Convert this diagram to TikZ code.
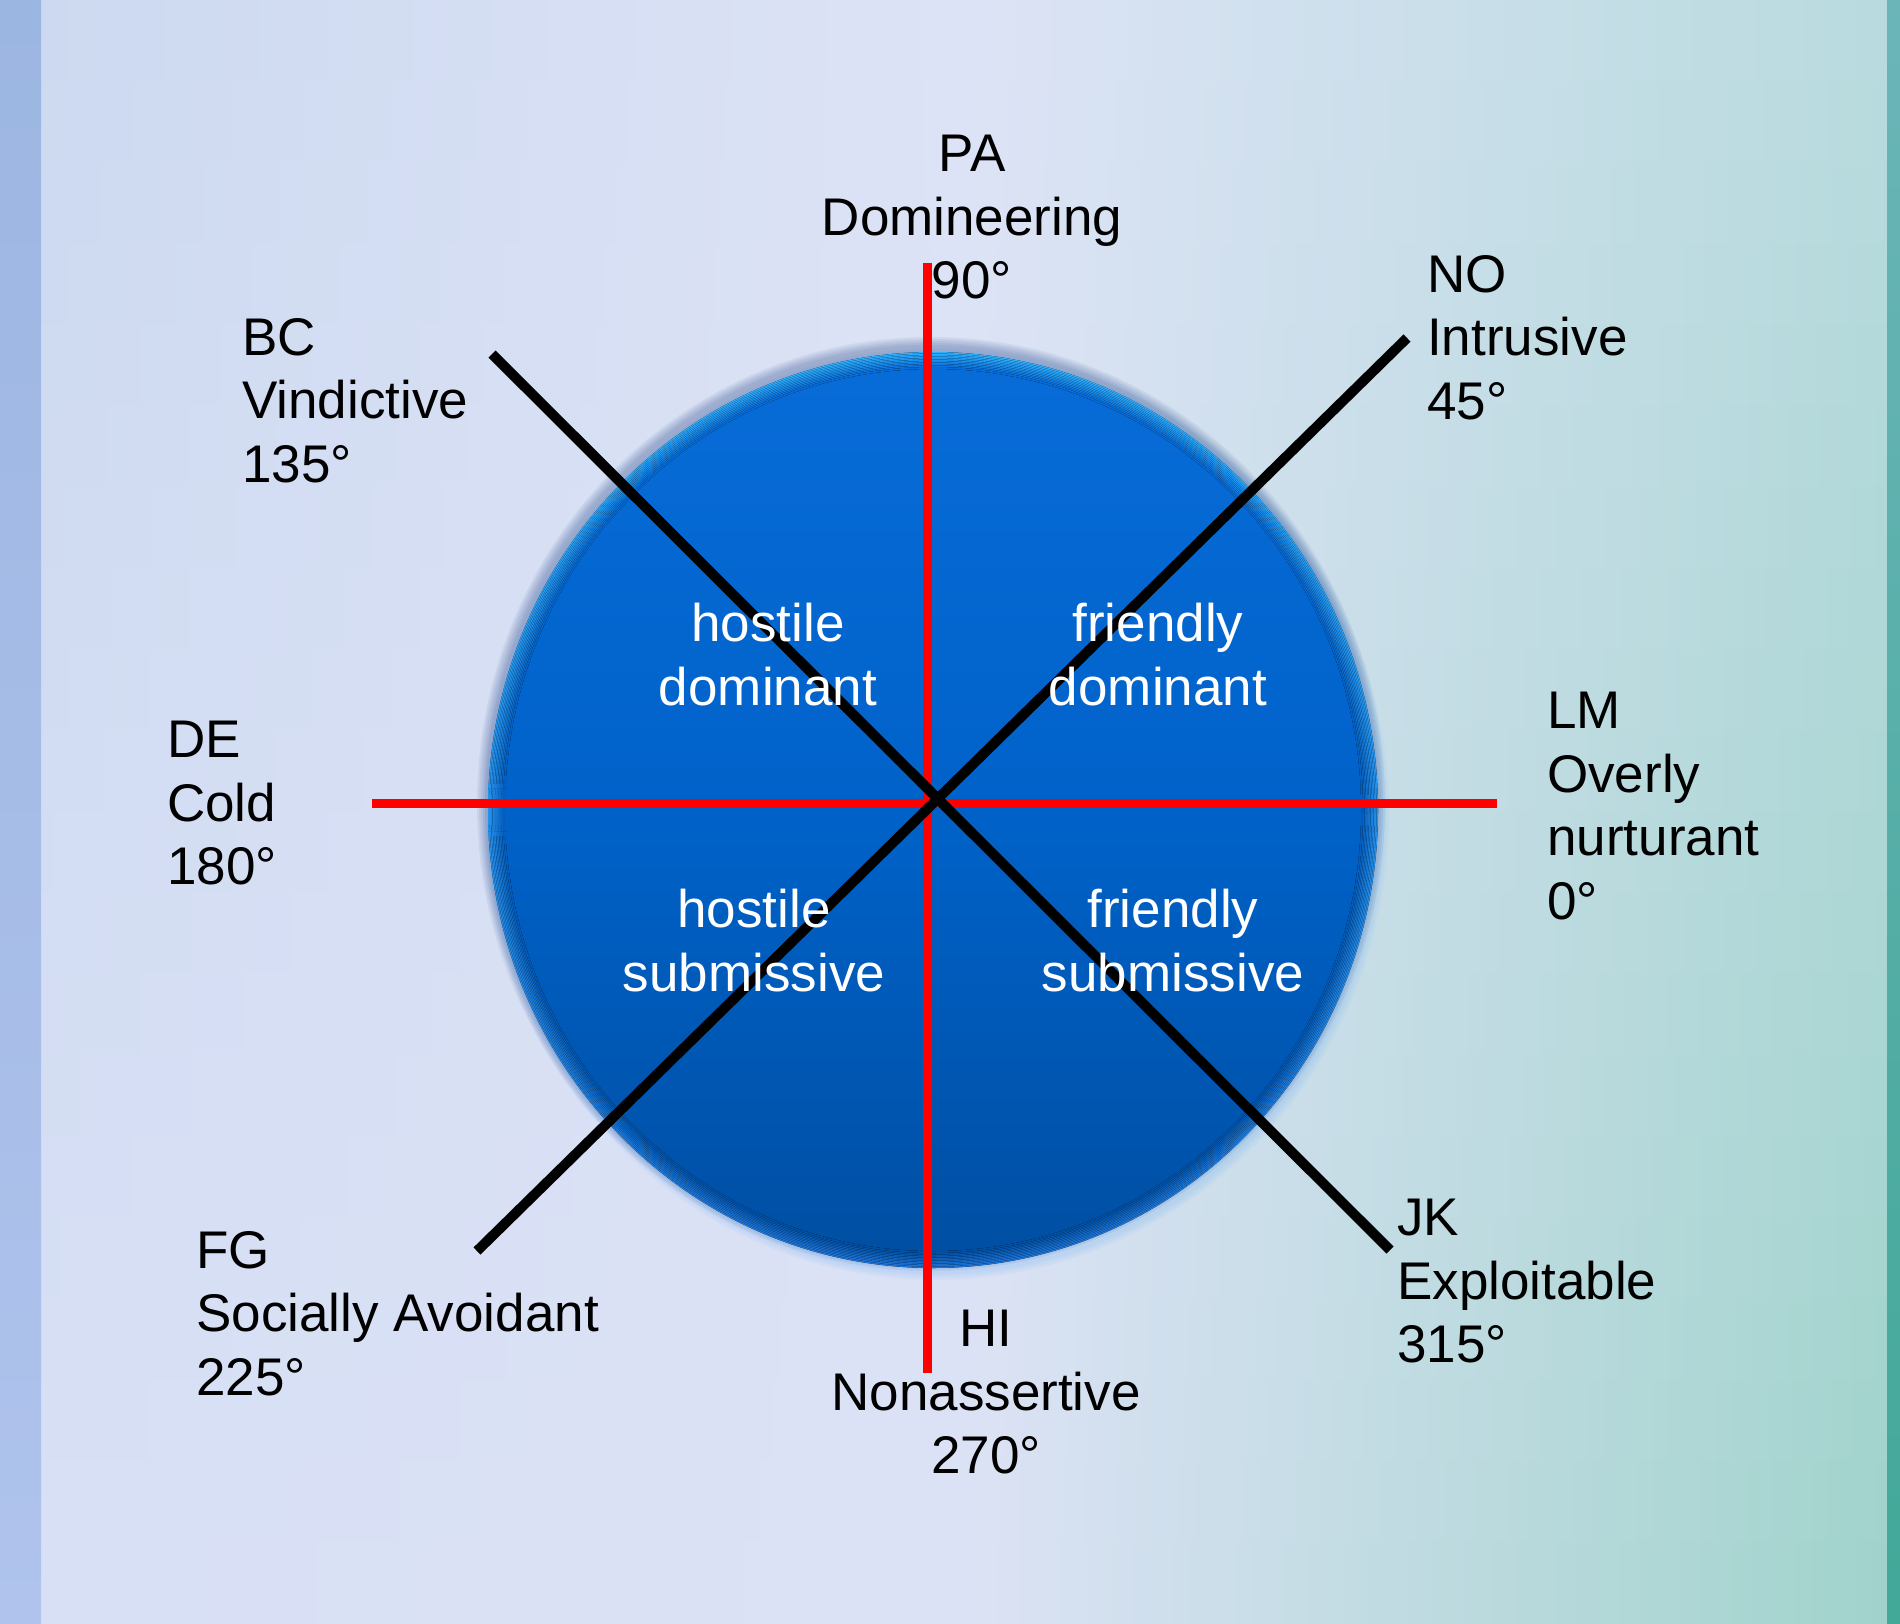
\documentclass[tikz,border=0pt]{standalone}
\usepackage{fontspec}
\setmainfont{Liberation Sans}
\definecolor{bgTL}{HTML}{CCD9F0}
\definecolor{bgTM}{HTML}{DDE3F6}
\definecolor{bgTR}{HTML}{B9DBDF}
\definecolor{bgBL}{HTML}{D8E0F5}
\definecolor{bgBM}{HTML}{DCE2F5}
\definecolor{bgBR}{HTML}{A0D3CB}
\definecolor{stripLT}{HTML}{9CB6E2}
\definecolor{stripLB}{HTML}{AFC3EC}
\definecolor{stripRT}{HTML}{6BB5B8}
\definecolor{stripRB}{HTML}{42A898}
\definecolor{rimTop}{HTML}{2EB0FF}
\definecolor{rimBot}{HTML}{1E74D8}
\definecolor{inTop}{HTML}{086CD8}
\definecolor{inMid}{HTML}{0062C9}
\definecolor{inBot}{HTML}{004FA3}
\definecolor{shadowc}{HTML}{2A4A8A}
\definecolor{glowc}{HTML}{8CC0F5}
\definecolor{axisred}{HTML}{FF0000}
\tikzset{
  lbl/.style={font=\fontsize{53}{63.5}\selectfont, inner sep=0pt, text=black},
  inlbl/.style={font=\fontsize{53}{63.5}\selectfont, inner sep=0pt, text=white, align=center, anchor=north},
  redaxis/.style={draw=axisred, line width=9pt},
  blackaxis/.style={draw=black, line width=10pt}
}
\begin{document}
\begin{tikzpicture}[x=1pt,y=-1pt]
\useasboundingbox (0,0) rectangle (1900,1623);
% background in horizontal bands
\foreach \i in {0,...,19}{
  \pgfmathtruncatemacro{\p}{round(5*\i+2.5)}
  \pgfmathsetmacro{\ya}{\i*81.15}
  \pgfmathsetmacro{\yb}{(\i+1)*81.15+1}
  \fill[left color=bgBL!\p!bgTL, right color=bgBR!\p!bgTR, middle color=bgBM!\p!bgTM]
    (41,\ya) rectangle (1887,\yb);
}
\fill[top color=stripLT, bottom color=stripLB] (0,0) rectangle (41,1623);
\fill[top color=stripRT, bottom color=stripRB] (1887,0) rectangle (1900,1623);
% soft glow (lower right) and shadow (upper left)
\foreach \r in {2,4,6,8}{
  \fill[glowc, opacity=0.10] (936,814) ellipse ({445+\r} and {458+\r});
}
\foreach \r in {1,3,5,7,9}{
  \fill[shadowc, opacity=0.08] (931,804) ellipse ({445+\r} and {458+\r});
}
% circle body: rim blending into interior
\foreach \k in {0,...,10}{
  \pgfmathtruncatemacro{\q}{10*\k}
  \fill[top color=inTop!\q!rimTop, bottom color=inBot!\q!rimBot]
    (933,810) ellipse ({445-1.5*\k} and {458-1.5*\k});
}
\fill[top color=inTop, bottom color=inBot, middle color=inMid] (933,810) ellipse (428 and 441);
% axis end points
\coordinate (top) at (927,263);
\coordinate (bot) at (927,1373);
\coordinate (lft) at (372,803);
\coordinate (rgt) at (1497,803);
\coordinate (bc) at (492,354);
\coordinate (jk) at (1390,1250);
\coordinate (no) at (1407,338);
\coordinate (fg) at (477,1251);
\draw[redaxis] (top) -- (bot);
\draw[redaxis] (lft) -- (rgt);
\draw[blackaxis] (bc) -- (jk);
\draw[blackaxis] (no) -- (fg);
% quadrant labels
\node[inlbl] (hd) at (768,603) {hostile\\dominant};
\node[inlbl] (fd) at (1158,603) {friendly\\dominant};
\node[inlbl] (hs) at (754,889) {hostile\\submissive};
\node[inlbl] (fs) at (1173,889) {friendly\\submissive};
% octant labels
\node[lbl, align=center, anchor=north] (pa) at (972,135) {PA\\Domineering\\90°};
\node[lbl, align=left, anchor=north west] (nolbl) at (1427,255) {NO\\Intrusive\\45°};
\node[lbl, align=left, anchor=north west] (bclbl) at (242,318) {BC\\Vindictive\\135°};
\node[lbl, align=left, anchor=north west] (de) at (167,721) {DE\\Cold\\180°};
\node[lbl, align=left, anchor=north west] (lm) at (1547,692) {LM\\Overly\\nurturant\\0°};
\node[lbl, align=left, anchor=north west] (fglbl) at (196,1231) {FG\\Socially Avoidant\\225°};
\node[lbl, align=left, anchor=north west] (jklbl) at (1397,1199) {JK\\Exploitable\\315°};
\node[lbl, align=center, anchor=north] (hi) at (986,1310) {HI\\Nonassertive\\270°};
\end{tikzpicture}
\end{document}
